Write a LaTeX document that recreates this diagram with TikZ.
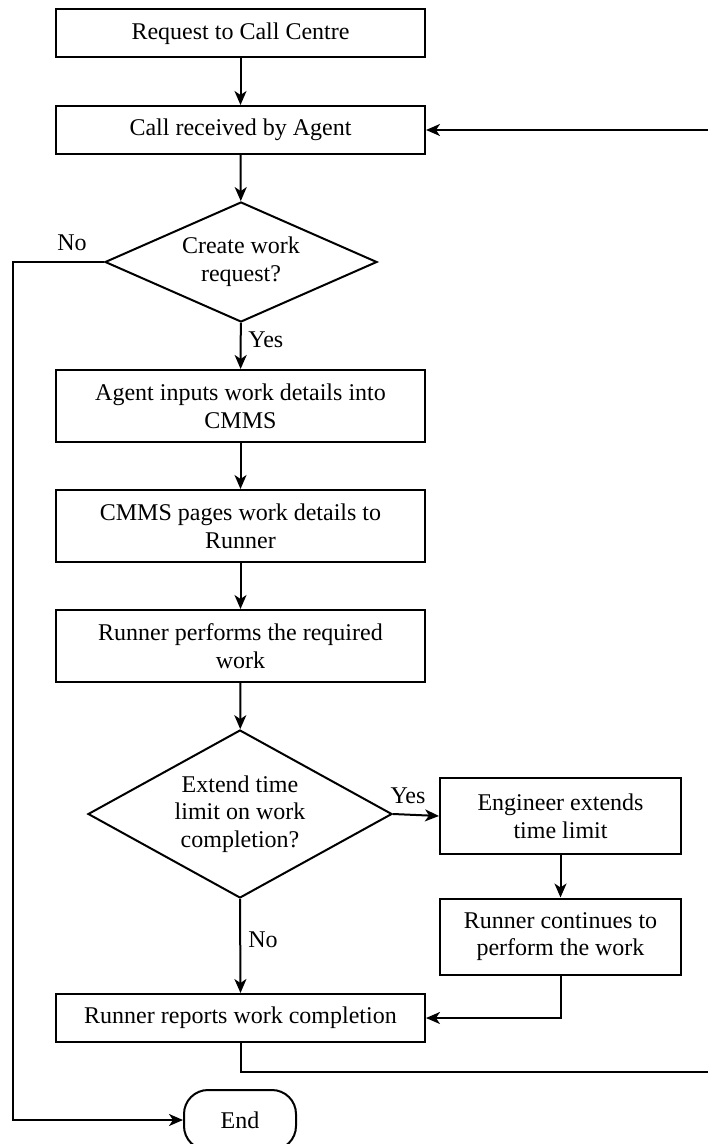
\documentclass[tikz,border=0pt]{standalone}
\usepackage{fontspec}
\setmainfont{Liberation Serif}
\usepackage{tikz}
\usetikzlibrary{calc,arrows.meta,shapes.geometric}

\tikzset{
  procbox/.style={draw,line width=1pt,rectangle,align=center,inner sep=2pt,
    minimum width=184.5pt,minimum height=24pt,font=\fontsize{12}{13.8}\selectfont},
  sidebox/.style={procbox,minimum width=120.5pt,minimum height=38pt},
  decbox/.style={draw,line width=1pt,diamond,align=center,inner sep=0pt,
    font=\fontsize{12}{13.8}\selectfont},
  endbox/.style={draw,line width=1pt,rectangle,rounded corners=12pt,
    minimum width=56pt,minimum height=30pt,font=\fontsize{12}{13.8}\selectfont},
  flow/.style={line width=1pt,-{Stealth[length=7pt,width=6pt,inset=2pt]}},
  lbl/.style={font=\fontsize{12}{13.8}\selectfont,inner sep=1pt}
}

\begin{document}
\begin{tikzpicture}[x=0.5pt,y=-0.5pt]
      \useasboundingbox (0,0) rectangle (707,1144);
      \node [procbox] (req)   at (240.5,33.5) {Request to Call Centre};
      \node [procbox] (call)  at (240.5,130) {Call received by Agent};
      \node [decbox,shape aspect=2.27,minimum width=136pt,minimum height=60pt] (d1) at (241,262) {Create work\\request?};
      \node [procbox,minimum height=36pt] (agent) at (240.5,406) {Agent inputs work details into\\CMMS};
      \node [procbox,minimum height=36pt] (pages) at (240.5,526) {CMMS pages work details to\\Runner};
      \node [procbox,minimum height=36pt] (perf)  at (240.5,646) {Runner performs the required\\work};
      \node [decbox,shape aspect=1.81,minimum width=152pt,minimum height=84pt] (d2) at (240,814) {Extend time\\limit on work\\completion?};
      \node [sidebox] (eng)  at (560.5,816) {Engineer extends\\time limit};
      \node [sidebox] (cont) at (560.5,936.5) {Runner continues to\\perform the work};
      \node [procbox] (rep)  at (240.5,1018) {Runner reports work completion};
      \node [endbox] (fin)   at (240,1120) {End};
      \coordinate (noline) at (13,600);
      \coordinate (back)   at (720,1072);

      \draw [flow] (req) -- (call);
      \draw [flow] (call) -- (d1);
      \draw [flow] (d1) -- (agent);
      \draw [flow] (agent) -- (pages);
      \draw [flow] (pages) -- (perf);
      \draw [flow] (perf) -- (d2);
      \draw [flow] (d2.east) -- (eng.west);
      \draw [flow] (eng) -- (cont);
      \draw [flow] (d2.south) -- (rep.north);
      \draw [flow] (cont.south) |- (rep.east);
      \draw [flow] (rep.south) |- (back) |- (call.east);
      \draw [flow] (d1.west) -| (noline) |- (fin.west);

      \node [lbl] (no1)  at (72,243) {No};
      \node [lbl,anchor=west] (yes1) at (246,340) {Yes};
      \node [lbl] (yes2) at (408,796) {Yes};
      \node [lbl,anchor=west] (no2)  at (246,940) {No};
    \end{tikzpicture}
\end{document}
